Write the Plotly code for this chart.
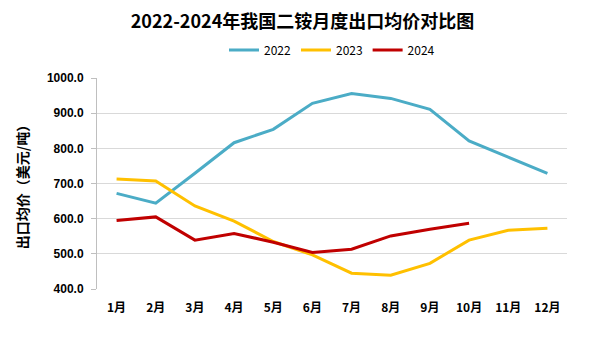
import plotly.graph_objects as go

months = ["1月", "2月", "3月", "4月", "5月", "6月", "7月", "8月", "9月", "10月", "11月", "12月"]
y2022 = [672, 644, 729, 816, 854, 928, 956, 942, 911, 821, 775, 729]
y2023 = [713, 707, 636, 593, 535, 497, 445, 439, 473, 539, 567, 573]
y2024 = [595, 605, 539, 558, 533, 504, 513, 551, 570, 587]
yticks = [400, 500, 600, 700, 800, 900, 1000]

xpos = list(range(1, 13))
fig = go.Figure()
for name, vals, color in [("2022", y2022, "#4BACC6"), ("2023", y2023, "#FFC000"), ("2024", y2024, "#C00000")]:
    fig.add_trace(go.Scatter(x=xpos[:len(vals)], y=vals, mode="lines", name=name,
                             line=dict(color=color, width=3)))

fig.update_layout(
    width=605, height=339,
    margin=dict(l=97, r=38, t=78, b=50),
    paper_bgcolor="white", plot_bgcolor="white",
    title=dict(text="2022-2024年我国二铵月度出口均价对比图", x=0.5, xanchor="center", y=0.935, yanchor="middle",
               font=dict(family="Noto Sans CJK SC", size=18, color="#000000", weight="bold")),
    legend=dict(orientation="h", x=0.5, xanchor="center", y=1.133, yanchor="middle",
                font=dict(family="Noto Sans CJK SC", size=12, color="#000000"), itemwidth=30,
                tracegroupgap=0),
    showlegend=True,
)
fig.update_xaxes(range=[0.5, 12.5], tickvals=xpos, ticktext=months, showgrid=False,
                 showline=False, zeroline=False, ticklabelstandoff=10,
                 tickfont=dict(family="Noto Sans CJK SC", size=12, color="#000000", weight="bold"))
fig.update_yaxes(range=[400, 1000], tickvals=yticks, ticktext=[f"{v:.1f}" for v in yticks],
                 showgrid=True, gridcolor="#D9D9D9", gridwidth=1, zeroline=False,
                 showline=True, linecolor="#BFBFBF", linewidth=1,
                 ticks="outside", ticklen=5, tickcolor="#BFBFBF", ticklabelstandoff=5,
                 tickfont=dict(family="Liberation Sans", size=12, color="#000000", weight="bold"),
                 title=dict(text="出口均价（美元/吨）", standoff=14,
                            font=dict(family="Noto Sans CJK SC", size=14, color="#000000", weight="bold")))
fig.write_html("out.html")
